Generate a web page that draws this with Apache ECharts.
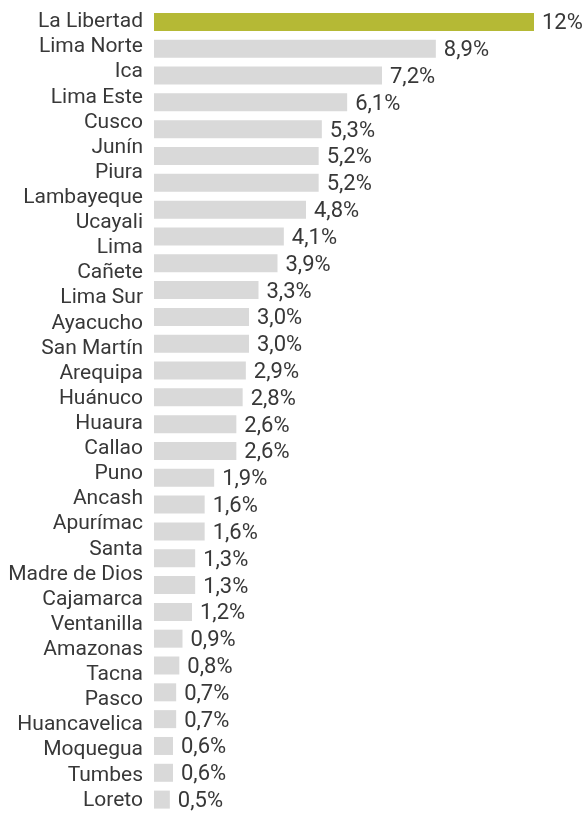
<!DOCTYPE html>
<html>
<head>
<meta charset="utf-8">
<script src="https://cdn.jsdelivr.net/npm/echarts@6/dist/echarts.min.js"></script>
<style>
  html, body { margin: 0; padding: 0; background: #fff; }
  #chart { width: 582px; height: 813px; }
</style>
</head>
<body>
<div id="chart"></div>
<script>
// region names, as printed down the left side
const regions = [
  'La Libertad', 'Lima Norte', 'Ica', 'Lima Este', 'Cusco', 'Junín', 'Piura',
  'Lambayeque', 'Ucayali', 'Lima', 'Cañete', 'Lima Sur', 'Ayacucho',
  'San Martín', 'Arequipa', 'Huánuco', 'Huaura', 'Callao', 'Puno', 'Ancash',
  'Apurímac', 'Santa', 'Madre de Dios', 'Cajamarca', 'Ventanilla', 'Amazonas',
  'Tacna', 'Pasco', 'Huancavelica', 'Moquegua', 'Tumbes', 'Loreto'
]

// bar values (%), top to bottom
const shares = [
  12, 8.9, 7.2, 6.1, 5.3, 5.2, 5.2, 4.8, 4.1, 3.9, 3.3, 3.0, 3.0, 2.9, 2.8,
  2.6, 2.6, 1.9, 1.6, 1.6, 1.3, 1.3, 1.2, 0.9, 0.8, 0.7, 0.7, 0.6, 0.6, 0.5
]

const highlightIndex = 0
const barSlots = shares.map((_, i) => String(i))

const fmt = v => (v === 12 ? '12' : v.toFixed(1).replace('.', ',')) + '%'

const chart = echarts.init(document.getElementById('chart'))

chart.setOption({
  animation: false,
  textStyle: { fontFamily: 'Roboto' },
  grid: [
    { left: 154, top: 8.5, width: 380, height: 808 },
    { left: 154, top: 9.4, width: 380, height: 805 }
  ],
  xAxis: [
    { gridIndex: 0, type: 'value', min: 0, max: 12, show: false },
    { gridIndex: 1, type: 'value', min: 0, max: 12, show: false }
  ],
  yAxis: [
    {
      gridIndex: 0,
      type: 'category',
      data: barSlots,
      inverse: true,
      show: false
    },
    {
      gridIndex: 1,
      type: 'category',
      data: regions,
      inverse: true,
      axisLine: { show: false },
      axisTick: { show: false },
      axisLabel: {
        interval: 0,
        margin: 11,
        color: '#383838',
        fontSize: 21,
        fontFamily: 'Roboto'
      }
    }
  ],
  series: [
    {
      type: 'bar',
      xAxisIndex: 0,
      yAxisIndex: 0,
      barWidth: 18,
      data: shares.map((v, i) => ({
        value: v,
        itemStyle: { color: i === highlightIndex ? '#b5b935' : '#d9d9d9' }
      })),
      label: {
        show: true,
        position: 'right',
        distance: 8,
        offset: [0, 2],
        color: '#383838',
        fontSize: 22,
        fontFamily: 'Roboto',
        formatter: p => fmt(p.value)
      }
    }
  ]
})
</script>
</body>
</html>
